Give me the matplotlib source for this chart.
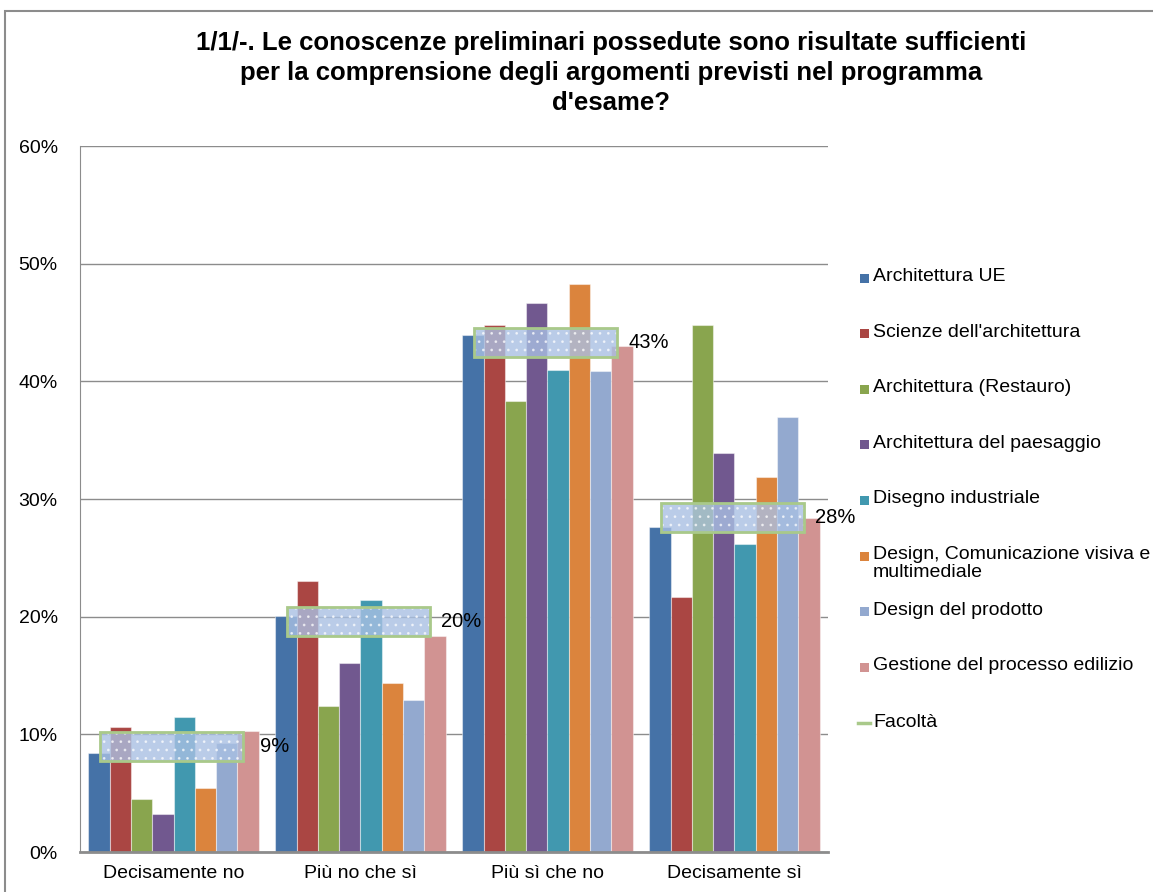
import numpy as np
import matplotlib.pyplot as plt
from matplotlib.patches import Rectangle
from matplotlib.lines import Line2D

plt.rcParams['font.family'] = ['Liberation Sans', 'DejaVu Sans']

categories = ['Decisamente no', 'Più no che sì', 'Più sì che no', 'Decisamente sì']
series_names = [
    'Architettura UE',
    "Scienze dell'architettura",
    'Architettura (Restauro)',
    'Architettura del paesaggio',
    'Disegno industriale',
    'Design, Comunicazione visiva e\nmultimediale',
    'Design del prodotto',
    'Gestione del processo edilizio',
]
arch_ue = [8.4, 20.1, 43.9, 27.6]
scienze = [10.6, 23.0, 44.8, 21.7]
restauro = [4.5, 12.4, 38.3, 44.8]
paesaggio = [3.2, 16.1, 46.7, 33.9]
disegno_ind = [11.5, 21.4, 41.0, 26.2]
design_com = [5.4, 14.4, 48.3, 31.9]
design_prod = [9.3, 12.9, 40.9, 37.0]
gestione = [10.3, 18.4, 43.0, 28.4]
facolta = [9.0, 19.6, 43.3, 28.4]

series_values = [arch_ue, scienze, restauro, paesaggio, disegno_ind,
                 design_com, design_prod, gestione]
colors = ['#4572A7', '#AA4643', '#89A54E', '#71588F',
          '#4198AF', '#DB843D', '#93A9CF', '#D19392']

fig = plt.figure(figsize=(11.53, 8.92), dpi=100)
fig.patches.append(Rectangle((0.004, -0.01), 1.2, 0.998, transform=fig.transFigure,
                             fill=False, edgecolor='#8c8c8c', linewidth=1.5))

ax = fig.add_axes([0.0694, 0.0448, 0.6487, 0.7915])

x = np.arange(len(categories))
n = len(series_values)
width = 0.114
for i, (vals, col) in enumerate(zip(series_values, colors)):
    offs = (i - (n - 1) / 2) * width
    ax.bar(x + offs, vals, width, color=col, edgecolor=(1, 1, 1, 0.45),
           linewidth=0.8, zorder=2)

# Facolta markers: translucent dotted boxes
box_h = 2.45
box_w = 0.765
bottoms = np.array(facolta) - box_h / 2
ax.bar(x - 0.01, box_h, box_w, bottom=bottoms,
       color='#a9c0e3', alpha=0.8, edgecolor='none', zorder=3)
plt.rcParams['hatch.linewidth'] = 0.8
ax.bar(x - 0.01, box_h, box_w, bottom=bottoms,
       color='none', hatch='..', edgecolor=(1, 1, 1, 0.6), linewidth=0, zorder=3)
ax.bar(x - 0.01, box_h, box_w, bottom=bottoms,
       color='none', edgecolor='#a9c98a', linewidth=2, zorder=4)
for xi, v in zip(x, facolta):
    ax.text(xi + 0.54, v, f'{v:.0f}%', fontsize=14.5, va='center', ha='center', zorder=5)

ax.set_xlim(-0.5, 3.5)
ax.set_ylim(0, 60)
ax.set_yticks(np.arange(0, 61, 10))
ax.set_yticklabels([f'{t}%' for t in range(0, 61, 10)], fontsize=14)
ax.set_xticks(x)
ax.set_xticklabels(categories, fontsize=14)
ax.tick_params(axis='x', length=0, pad=9)
ax.tick_params(axis='y', length=0, pad=16)
ax.yaxis.grid(True, color='#8c8c8c', linewidth=1)
ax.set_axisbelow(True)
for s in ['top', 'right']:
    ax.spines[s].set_visible(False)
ax.spines['left'].set_color('#8c8c8c')
ax.spines['bottom'].set_color('#8c8c8c')
ax.spines['bottom'].set_linewidth(2)

fig.text(0.53, 0.965, "1/1/-. Le conoscenze preliminari possedute sono risultate sufficienti\n"
         "per la comprensione degli argomenti previsti nel programma\nd'esame?",
         ha='center', va='top', fontsize=18.5, fontweight='bold', linespacing=1.32)

# legend
leg_y0 = 892 - 278
step = 55.6
for i, (name, col) in enumerate(zip(series_names, colors)):
    yy = (leg_y0 - i * step) / 892
    fig.patches.append(Rectangle((860 / 1153, yy - 4.5 / 892), 9 / 1153, 9 / 892,
                                 transform=fig.transFigure, facecolor=col, edgecolor='none'))
    fig.text(873 / 1153, yy + 10 / 892, name, fontsize=14, va='top', ha='left', linespacing=1.1)
yy = (leg_y0 - 8 * step) / 892
fig.lines.append(Line2D([858 / 1153, 870 / 1153], [yy, yy], transform=fig.transFigure,
                        color='#a9c98a', linewidth=2.5))
fig.text(873 / 1153, yy, 'Facoltà', fontsize=14, va='center', ha='left')

fig.savefig('out.png', dpi=100)
